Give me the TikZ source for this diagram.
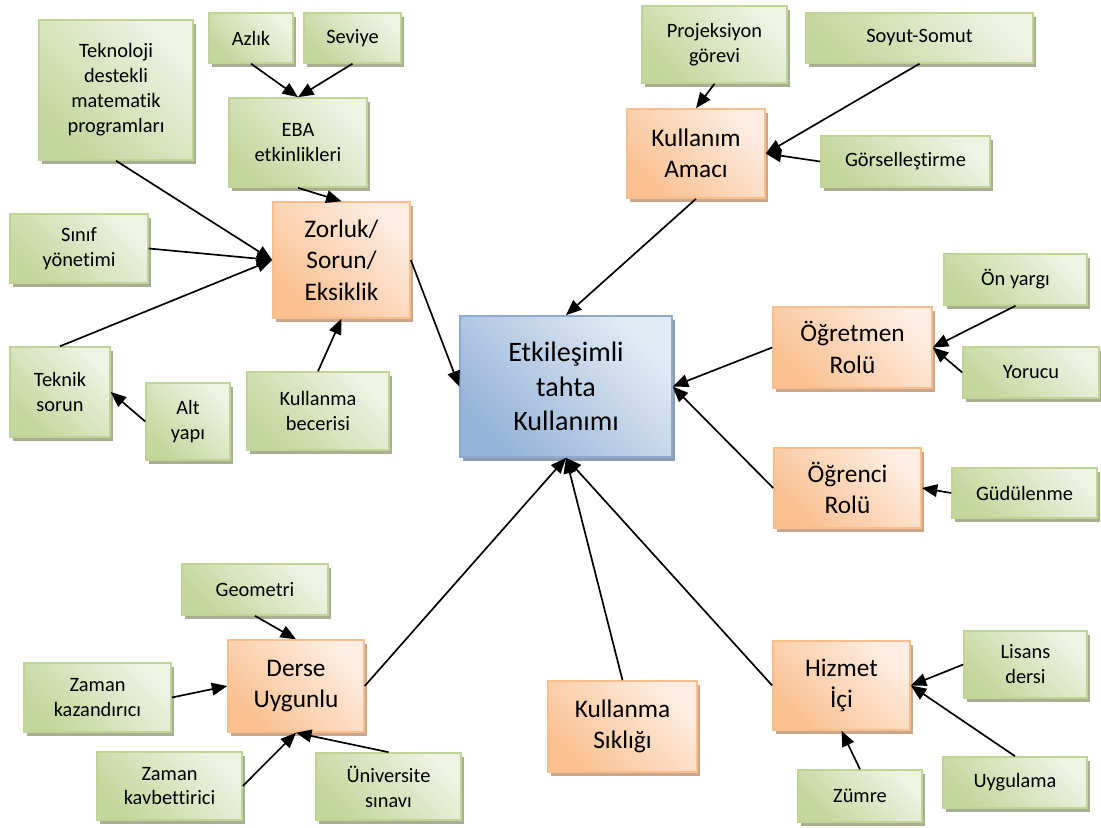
\documentclass[tikz,border=0pt]{standalone}
\usepackage{fontspec}
\setmainfont{Carlito}[Ligatures = NoCommon]
\usepackage{xcolor}
\usepackage{tikz}
\usetikzlibrary{arrows.meta,shadows}
\definecolor{greenlight}{HTML}{EEF3E4}
\definecolor{greendark}{HTML}{C3D69B}
\definecolor{greenedge}{HTML}{C0D496}
\definecolor{greenshadow}{HTML}{A7AE94}
\definecolor{orangelight}{HTML}{FDEDE2}
\definecolor{orangedark}{HTML}{FAC090}
\definecolor{orangeedge}{HTML}{F9BE8C}
\definecolor{orangeshadow}{HTML}{C8A78C}
\definecolor{bluelight}{HTML}{E2EAF4}
\definecolor{bluedark}{HTML}{95B3D7}
\definecolor{blueedge}{HTML}{8EAAD0}
\definecolor{blueshadow}{HTML}{8F9DB0}

\begin{document}
\begin{tikzpicture}[x = 0.025cm, y = -0.025cm]
	\tikzstyle{every node} = [draw, align = center, inner sep = 2pt, line width = 1pt]
	\tikzstyle{small} = [draw = greenedge, top color = greenlight, bottom color = greendark, shading angle = -45,
		drop shadow = {shadow xshift = 0.07cm, shadow yshift = -0.1cm, fill = greenshadow, opacity = 1},
		font = \fontsize{14.5}{17.7}\selectfont]
	\tikzstyle{big} = [draw = orangeedge, top color = orangelight, bottom color = orangedark, shading angle = -45,
		drop shadow = {shadow xshift = 0.07cm, shadow yshift = -0.1cm, fill = orangeshadow, opacity = 1},
		font = \fontsize{18}{22.4}\selectfont]
	\tikzstyle{hub} = [draw = blueedge, top color = bluelight, bottom color = bluedark, shading angle = -45,
		drop shadow = {shadow xshift = 0.07cm, shadow yshift = -0.1cm, fill = blueshadow, opacity = 1},
		font = \fontsize{20}{24.4}\selectfont]
	\tikzstyle{pil} = [draw, line width = 1.2pt, -{Triangle[length = 11pt, width = 9pt]}]
\useasboundingbox (0, 0) rectangle (1101, 828);

\node[hub, minimum width = 5.3cm, minimum height = 3.53cm] (0) at (566, 386.5) {Etkileşimli\\tahta\\Kullanımı};

\node[big, minimum width = 3.43cm, minimum height = 2.9cm] (1) at (341.5, 260) {Zorluk/\\Sorun/\\Eksiklik};
\node[big, minimum width = 3.45cm, minimum height = 2.23cm] (2) at (696, 153.5) {Kullanım\\Amacı};
\node[big, minimum width = 3.98cm, minimum height = 2.03cm] (3) at (852.5, 347.5) {Öğretmen\\Rolü};
\node[big, minimum width = 3.68cm, minimum height = 2cm] (4) at (847.5, 488) {Öğrenci\\Rolü};
\node[big, minimum width = 3.4cm, minimum height = 2.3cm] (5) at (296, 686) {Derse\\Uygunlu};
\node[big, minimum width = 3.73cm, minimum height = 2.28cm] (6) at (622.5, 726.5) {Kullanma\\Sıklığı};
\node[big, minimum width = 3.43cm, minimum height = 2.23cm] (7) at (841.5, 685.5) {Hizmet\\İçi};

\node[small, minimum width = 3.85cm, minimum height = 3.5cm] (8) at (116, 90) {Teknoloji\\destekli\\matematik\\programları};
\node[small, minimum width = 2.1cm, minimum height = 1.25cm] (9) at (251, 38) {Azlık};
\node[small, minimum width = 2.43cm, minimum height = 1.25cm] (10) at (352.5, 38) {Seviye};
\node[small, minimum width = 3.45cm, minimum height = 2.23cm] (11) at (298, 142.5) {EBA\\etkinlikleri};
\node[small, minimum width = 3.45cm, minimum height = 1.73cm] (12) at (79, 248.5) {Sınıf\\yönetimi};
\node[small, minimum width = 2.5cm, minimum height = 2.25cm] (13) at (60, 392) {Teknik\\sorun};
\node[small, minimum width = 2.1cm, minimum height = 1.93cm] (14) at (188, 421.5) {Alt\\yapı};
\node[small, minimum width = 3.55cm, minimum height = 1.95cm] (15) at (318, 411) {Kullanma\\becerisi};
\node[small, minimum width = 3.63cm, minimum height = 1.93cm] (16) at (714.5, 44.5) {Projeksiyon\\görevi};
\node[small, minimum width = 5.68cm, minimum height = 1.25cm] (17) at (919.5, 38) {Soyut-Somut};
\node[small, minimum width = 4.23cm, minimum height = 1.28cm] (18) at (905.5, 161.5) {Görselleştirme};
\node[small, minimum width = 3.58cm, minimum height = 1.28cm] (19) at (1015.5, 279.5) {Ön yargı};
\node[small, minimum width = 3.4cm, minimum height = 1.28cm] (20) at (1031, 372.5) {Yorucu};
\node[small, minimum width = 3.63cm, minimum height = 1.25cm] (21) at (1024.5, 493) {Güdülenme};
\node[small, minimum width = 3.65cm, minimum height = 1.28cm] (22) at (255, 589.5) {Geometri};
\node[small, minimum width = 3.68cm, minimum height = 1.73cm] (23) at (97.5, 697.5) {Zaman\\kazandırıcı};
\node[small, minimum width = 3.63cm, minimum height = 1.7cm] (24) at (169.5, 786) {Zaman\\kavbettirici};
\node[small, minimum width = 3.63cm, minimum height = 1.68cm] (25) at (388.5, 786.5) {Üniversite\\sınavı};
\node[small, minimum width = 3.08cm, minimum height = 1.68cm] (26) at (1025.5, 664.5) {Lisans\\dersi};
\node[small, minimum width = 3.1cm, minimum height = 1.3cm] (27) at (860, 796) {Zümre};
\node[small, minimum width = 3.6cm, minimum height = 1.28cm] (28) at (1015, 782.5) {Uygulama};

	% Zorluk/Sorun/Eksiklik
	\path[pil] (8.south) -- (1.west);
	\path[pil] (12.east) -- (1.west);
	\path[pil] (13.north) -- (1.west);
	\path[pil] (11.south) -- (1.north);
	\path[pil] (9.south) -- (11.north);
	\path[pil] (10.south) -- (11.north);
	\path[pil] (14.west) -- (13.east);
	\path[pil] (15.north) -- (1.south);
	\path[pil] (1.east) -- (0.west);
	% Kullanim Amaci
	\path[pil] (2.south) -- (0.north);
	\path[pil] (16.south) -- (2.north);
	\path[pil] (17.south) -- (2.east);
	\path[pil] (18.west) -- (2.east);
	% roller
	\path[pil] (3.west) -- (0.east);
	\path[pil] (4.west) -- (0.east);
	\path[pil] (19.south) -- (3.east);
	\path[pil] (20.west) -- (3.east);
	\path[pil] (21.west) -- (4.east);
	% alt taraf
	\path[pil] (5.east) -- (0.south);
	\path[pil] (6.north) -- (0.south);
	\path[pil] (7.west) -- (0.south);
	\path[pil] (22.south) -- (5.north);
	\path[pil] (23.east) -- (5.west);
	\path[pil] (24.east) -- (5.south);
	\path[pil] (25.north) -- (5.south);
	\path[pil] (26.west) -- (7.east);
	\path[pil] (28.north) -- (7.east);
	\path[pil] (27.north) -- (7.south);
\end{tikzpicture}
\end{document}
